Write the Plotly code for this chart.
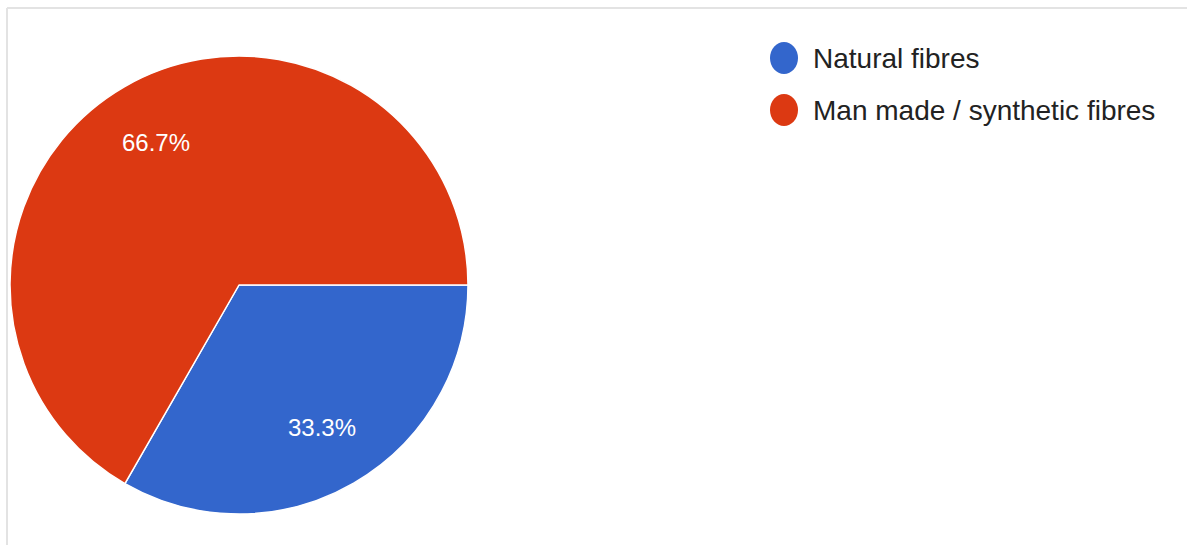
import math
import plotly.graph_objects as go

W, H = 1187, 545

labels = ["Natural fibres", "Man made / synthetic fibres"]
values = [33.3, 66.7]
colors = ["#3366cc", "#dc3912"]

FONT = "Liberation Sans, Arial, sans-serif"


def px(x):
    return x / W


def py(y):
    return 1 - y / H


cx, cy, r = 239, 285, 229
start_deg = 0  # math angle of the first slice start (3 o'clock), clockwise

fig = go.Figure()
fig.add_trace(go.Pie(
    labels=labels,
    values=values,
    sort=False,
    direction="clockwise",
    rotation=90,
    marker=dict(colors=colors, line=dict(color="white", width=1.5)),
    textinfo="none",
    showlegend=False,
    hoverinfo="label+percent",
    domain=dict(x=[px(cx - r), px(cx + r)], y=[py(cy + r), py(cy - r)]),
))

shapes = [
    dict(type="line", xref="paper", yref="paper", x0=px(7), x1=px(7), y0=-0.05, y1=py(8),
         line=dict(color="#e3e3e3", width=2)),
    dict(type="line", xref="paper", yref="paper", x0=px(7), x1=1.05, y0=py(8), y1=py(8),
         line=dict(color="#e3e3e3", width=2)),
]
annotations = []

# slice percentage labels placed along each slice's bisector
total = sum(values)
cum = 0.0
k = 0.72
for v in values:
    frac = v / total
    mid = math.radians(start_deg - 360 * (cum + frac / 2))
    cum += frac
    lx = cx + k * r * math.cos(mid)
    ly = cy - k * r * math.sin(mid)
    annotations.append(dict(xref="paper", yref="paper", x=px(lx), y=py(ly),
                            xanchor="center", yanchor="middle", showarrow=False,
                            text=f"{100 * frac:.1f}%",
                            font=dict(family=FONT, size=24, color="white")))

# legend
leg_x, leg_y0, leg_dy, rad = 784, 58, 52, 14
for i, (lab, col) in enumerate(zip(labels, colors)):
    yc = leg_y0 + i * leg_dy
    shapes.append(dict(type="circle", xref="paper", yref="paper",
                       x0=px(leg_x - rad), x1=px(leg_x + rad),
                       y0=py(yc + rad + 2), y1=py(yc - rad - 2),
                       fillcolor=col, line=dict(width=0)))
    annotations.append(dict(xref="paper", yref="paper", x=px(811), y=py(yc),
                            xanchor="left", yanchor="middle", showarrow=False,
                            text=lab,
                            font=dict(family=FONT, size=28, color="#222222")))

fig.update_layout(
    width=W, height=H,
    margin=dict(l=0, r=0, t=0, b=0),
    paper_bgcolor="white",
    plot_bgcolor="white",
    shapes=shapes,
    annotations=annotations,
)

fig.write_html("out.html", config={"displayModeBar": False},
               post_script="document.body.style.margin='0px';")
